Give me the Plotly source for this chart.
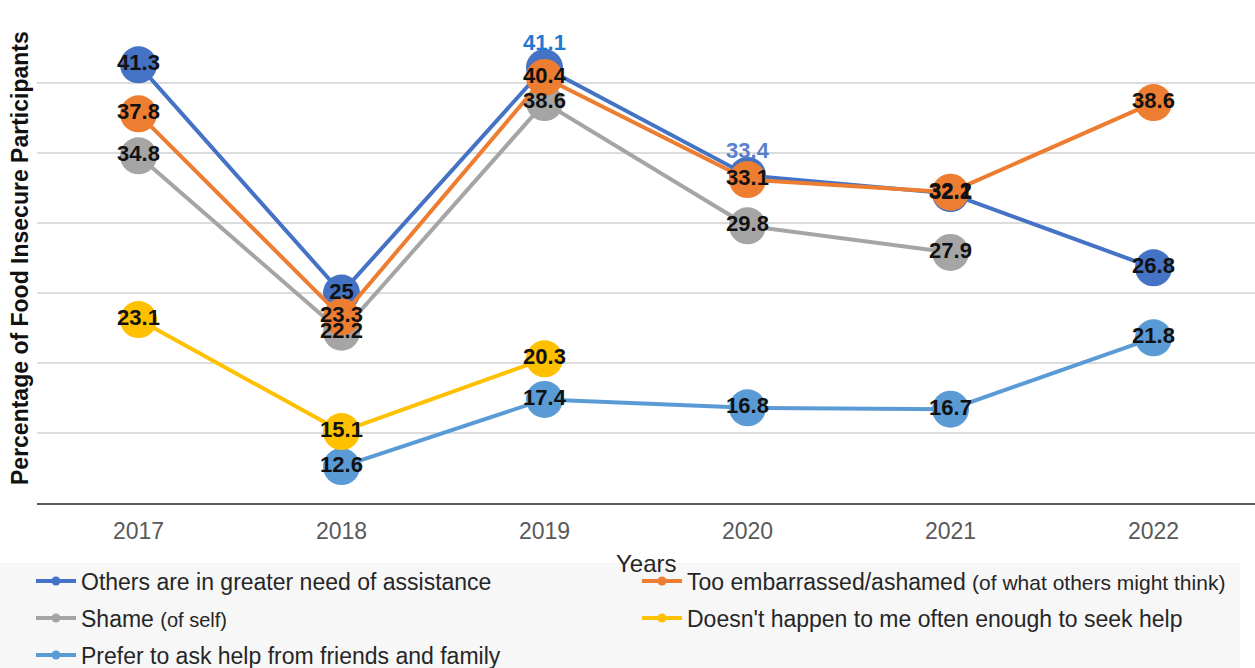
import plotly.graph_objects as go

years = ["2017", "2018", "2019", "2020", "2021", "2022"]
others = [41.3, 25.0, 41.1, 33.4, 32.1, 26.8]
embarrassed = [37.8, 23.3, 40.4, 33.1, 32.2, 38.6]
shame = [34.8, 22.2, 38.6, 29.8, 27.9, None]
not_often = [23.1, 15.1, 20.3, None, None, None]
friends = [None, 12.6, 17.4, 16.8, 16.7, 21.8]

series = {
    "others": ("Others are in greater need of assistance", others, "#4472C4"),
    "embarrassed": ("Too embarrassed/ashamed <span style='font-size:21px'>(of what others might think)</span>", embarrassed, "#ED7D31"),
    "shame": ("Shame <span style='font-size:20px'>(of self)</span>", shame, "#A5A5A5"),
    "not_often": ("Doesn't happen to me often enough to seek help", not_often, "#FFC000"),
    "friends": ("Prefer to ask help from friends and family", friends, "#5B9BD5"),
}
legend_rows = {"others": "legend", "embarrassed": "legend",
               "shame": "legend2", "not_often": "legend2", "friends": "legend3"}

MARKER = 37
W, H = 1255, 668
L, R, T, B = 37, 0, 13, 165

fig = go.Figure()

def fmt(v):
    return "" if v is None else f"{v:g}"

# marker + line traces (draw order)
for key in ["shame", "others", "embarrassed", "friends", "not_often"]:
    name, vals, col = series[key]
    fig.add_trace(go.Scatter(
        x=years, y=vals, mode="lines+markers", showlegend=False,
        line=dict(color=col, width=4),
        marker=dict(color=col, size=MARKER, line=dict(width=0)),
        hoverinfo="skip",
    ))

# label traces drawn on top
label_pos = {
    "others": ["middle center", "middle center", "top center", "top center", "middle center", "middle center"],
}
label_col = {
    "others": ["#111111", "#111111", "#1f78d1", "#5b7fcc", "#111111", "#111111"],
}
label_size = {
    "others": [MARKER, MARKER, 18, 18, MARKER, MARKER],
}
for key in ["others", "embarrassed", "shame", "not_often", "friends"]:
    name, vals, col = series[key]
    fig.add_trace(go.Scatter(
        x=years, y=vals, mode="markers+text", showlegend=False,
        marker=dict(color="rgba(0,0,0,0)", size=label_size.get(key, MARKER),
                    line=dict(width=0, color="rgba(0,0,0,0)")),
        text=[fmt(v) for v in vals],
        textposition=label_pos.get(key, "middle center"),
        textfont=dict(family="Liberation Sans, Arial, sans-serif", size=22,
                      color=label_col.get(key, "#111111"), weight="bold"),
        hoverinfo="skip",
    ))

# legend entries
for key in ["others", "embarrassed", "shame", "not_often", "friends"]:
    name, vals, col = series[key]
    fig.add_trace(go.Scatter(
        x=[None], y=[None], mode="lines+markers", name=name,
        legend=legend_rows[key],
        line=dict(color=col, width=4), marker=dict(color=col, size=9),
    ))

def leg(row_y):
    return dict(
        orientation="h", xref="container", yref="container",
        x=31 / W, y=1 - row_y / H, xanchor="left", yanchor="middle",
        bgcolor="rgba(0,0,0,0)", entrywidth=551, entrywidthmode="pixels",
        itemwidth=40,
        font=dict(size=23, color="#262626"), traceorder="normal",
    )

pw, ph = W - L - R, H - T - B
def px_x(px):
    return (px - L) / pw
def px_y(py):
    return (H - B - py) / ph

fig.update_layout(
    width=W, height=H,
    margin=dict(l=L, r=R, t=T, b=B),
    paper_bgcolor="white", plot_bgcolor="white",
    font=dict(family="Liberation Sans, Arial, sans-serif", color="#262626"),
    legend=leg(581), legend2=leg(618), legend3=leg(655),
    xaxis=dict(
        type="category", range=[-0.5, 5.5], showgrid=False,
        showline=True, linecolor="#595959", linewidth=2,
        tickfont=dict(size=23, color="#595959"), ticks="",
        ticklabelstandoff=6,
    ),
    yaxis=dict(
        range=[10, 45], dtick=5, showticklabels=False,
        showgrid=True, gridcolor="#dcdcdc", gridwidth=2,
        zeroline=False, showline=False,
    ),
    shapes=[
        dict(type="rect", xref="paper", yref="paper",
             x0=px_x(0), x1=px_x(1240), y0=px_y(668), y1=px_y(563),
             fillcolor="#f7f7f7", line=dict(width=0), layer="below"),
    ],
    annotations=[
        dict(text="<b>Percentage of Food Insecure Participants</b>", xref="paper", yref="paper",
             x=0, y=0.5, xshift=-17, xanchor="center", yanchor="middle", textangle=-90,
             showarrow=False, font=dict(size=23, color="#111111")),
        dict(text="Years", xref="paper", yref="paper", x=0.5, y=0, yshift=-60,
             xanchor="center", yanchor="middle", showarrow=False,
             font=dict(size=24, color="#262626")),
    ],
)

fig.write_html("out.html")
